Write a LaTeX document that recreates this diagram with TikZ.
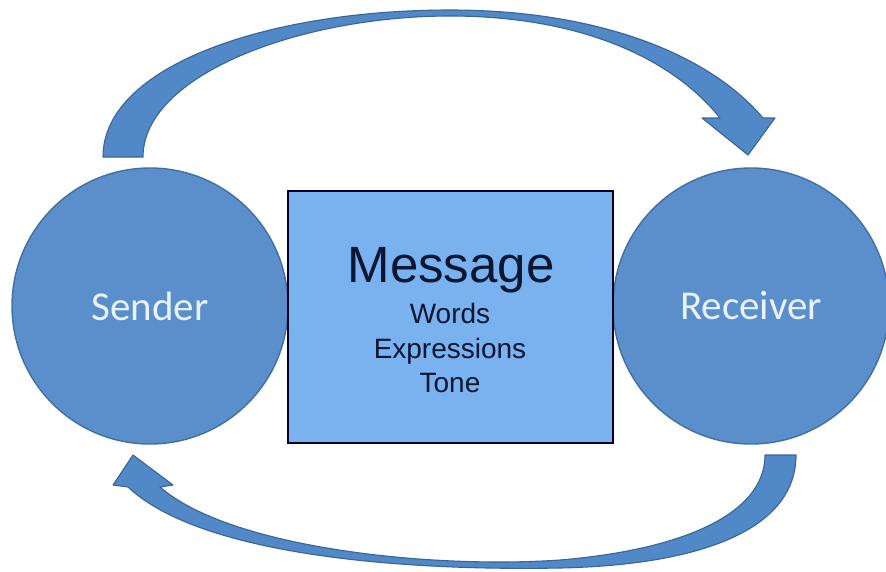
\documentclass[tikz,border=0pt]{standalone}
\usepackage{fontspec}
\setmainfont{Liberation Sans}
\newfontfamily\calib{Carlito}
\definecolor{circfill}{HTML}{5A8FCB}
\definecolor{circline}{HTML}{41709F}
\definecolor{arrfill}{HTML}{5088C8}
\definecolor{arrline}{HTML}{3A6592}
\definecolor{boxfill}{HTML}{7AB2EF}
\definecolor{boxtext}{HTML}{0B1633}
\definecolor{circtext}{HTML}{E9F1F9}
\tikzset{
  circlenode/.style={circle, fill=circfill, draw=circline, line width=1.4pt,
    minimum size=276pt, inner sep=0pt, text=circtext,
    font=\calib\fontsize{41}{48}\selectfont},
  msgbox/.style={rectangle, fill=boxfill, draw=black!85!blue, line width=1.3pt,
    minimum width=325pt, minimum height=252pt, inner sep=0pt},
  bigtext/.style={anchor=base, text=boxtext, inner sep=0pt, font=\fontsize{51}{60}\selectfont},
  smalltext/.style={anchor=base, text=boxtext, inner sep=0pt, font=\fontsize{28}{34}\selectfont},
  arrowshape/.style={fill=arrfill, draw=arrline, line width=1.1pt, line join=round}
}
\begin{document}
\begin{tikzpicture}[x=1pt,y=-1pt]
\useasboundingbox (0,0) rectangle (886,571);
\fill[white] (0,0) rectangle (886,571);

% top curved arrow (Sender -> Receiver)
\coordinate (ttailA) at (103,157);
\coordinate (ttailB) at (143,157);
\coordinate (ttip) at (748,155);
\filldraw[arrowshape]
  (ttailA) .. controls (103,65) and (270,10) .. (450,10)
  .. controls (600,10) and (710,55) .. (763,118)
  -- (775,118) -- (ttip) -- (702,118) -- (720,118)
  .. controls (672,58) and (580,16) .. (450,16)
  .. controls (300,16) and (143,75) .. (ttailB)
  -- cycle;

% bottom curved arrow (Receiver -> Sender)
\coordinate (btailA) at (796,455);
\coordinate (btailB) at (765,455);
\coordinate (btip) at (133,455);
\filldraw[arrowshape]
  (btailA) .. controls (796,530) and (700,565) .. (560,568)
  .. controls (400,571) and (200,555) .. (128,487)
  -- (113,485) -- (btip) -- (173,485) -- (160,487)
  .. controls (230,548) and (430,569) .. (560,560)
  .. controls (680,550) and (765,515) .. (btailB)
  -- cycle;

\node[circlenode] (sender) at (150,306) {Sender};
\node[circlenode] (receiver) at (751,306) {Receiver};

\node[msgbox] (msg) at (450.5,317) {};
\node[bigtext] (t1) at (451,282) {Message};
\node[smalltext] (t2) at (450,323) {Words};
\node[smalltext] (t3) at (450,358) {Expressions};
\node[smalltext] (t4) at (450,392) {Tone};
\end{tikzpicture}
\end{document}
